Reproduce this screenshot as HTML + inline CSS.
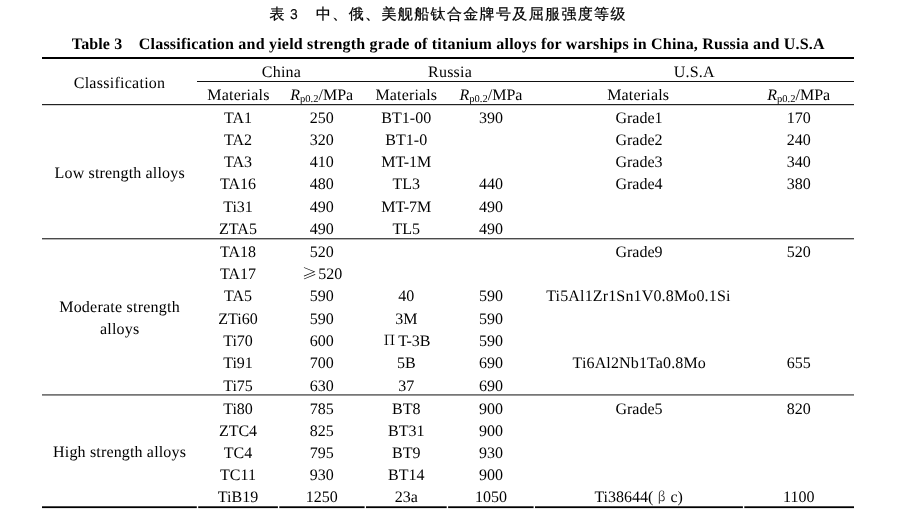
<!DOCTYPE html>
<html><head><meta charset="utf-8"><style>
html,body{margin:0;padding:0;background:#fff;width:900px;height:513px;overflow:hidden}
svg{display:block;will-change:transform;text-rendering:geometricPrecision}
.tx text{font-family:"Liberation Serif", "Times New Roman", serif;font-size:16px;fill:#000;text-anchor:middle}
.tx .sub{font-size:10.5px}
.tx text.st{text-anchor:start}
.tx .ge{font-family:"Noto Serif CJK SC",serif;font-size:15px}
.tx .pi{font-family:"Noto Serif CJK SC",serif;font-size:14px}
.tx .beta{font-family:"Noto Serif CJK SC",serif;font-size:13px;fill:#333}
.cn{font-family:"WenQuanYi Zen Hei", "Noto Sans CJK SC", sans-serif;font-size:15px;fill:#000;stroke:#000;stroke-width:0.25px}
.cn3{font-family:"WenQuanYi Zen Hei", "Noto Sans CJK SC", sans-serif;font-size:15px;fill:#000;stroke:#000;stroke-width:0.3px}
.en{font-family:"Liberation Serif", "Times New Roman", serif;font-size:16px;font-weight:bold;fill:#000}
</style></head><body>
<svg width="900" height="513" viewBox="0 0 900 513">
<text class="cn" x="269.5" y="19.4">表</text>
<text class="cn3" transform="translate(290.1 19.3) scale(0.84 0.95)">3</text>
<text class="cn" x="316" y="19.4" style="letter-spacing:1.36px">中、俄、美舰船钛合金牌号及屈服强度等级</text>
<text class="en" x="71.85" y="48.7" textLength="50.36" lengthAdjust="spacing">Table 3</text>
<text class="en" x="138.80" y="48.7" textLength="685.73" lengthAdjust="spacing">Classification and yield strength grade of titanium alloys for warships in China, Russia and U.S.A</text>
<g class="tx">
<text x="119.40" y="88.00" textLength="91.38" lengthAdjust="spacing">Classification</text>
<text x="281.35" y="76.70" textLength="39.22" lengthAdjust="spacing">China</text>
<text x="449.95" y="76.70" textLength="43.87" lengthAdjust="spacing">Russia</text>
<text x="694.15" y="76.70" textLength="40.62" lengthAdjust="spacing">U.S.A</text>
<text x="238.30" y="99.50" textLength="62.22" lengthAdjust="spacing">Materials</text>
<text x="406.25" y="99.50" textLength="61.62" lengthAdjust="spacing">Materials</text>
<text x="638.10" y="99.50" textLength="61.82" lengthAdjust="spacing">Materials</text>
<text x="321.75" y="99.50"><tspan font-style="italic">R</tspan><tspan class="sub" dy="2.5">p0.2</tspan><tspan dy="-2.5">/MPa</tspan></text>
<text x="491.00" y="99.50"><tspan font-style="italic">R</tspan><tspan class="sub" dy="2.5">p0.2</tspan><tspan dy="-2.5">/MPa</tspan></text>
<text x="798.75" y="99.50"><tspan font-style="italic">R</tspan><tspan class="sub" dy="2.5">p0.2</tspan><tspan dy="-2.5">/MPa</tspan></text>
<text x="238.00" y="123.00">TA1</text>
<text x="321.75" y="123.00">250</text>
<text x="406.25" y="123.00">BT1-00</text>
<text x="491.00" y="123.00">390</text>
<text x="639.00" y="123.00">Grade1</text>
<text x="798.75" y="123.00">170</text>
<text x="238.00" y="145.15">TA2</text>
<text x="321.75" y="145.15">320</text>
<text x="406.25" y="145.15">BT1-0</text>
<text x="639.00" y="145.15">Grade2</text>
<text x="798.75" y="145.15">240</text>
<text x="238.00" y="167.30">TA3</text>
<text x="321.75" y="167.30">410</text>
<text x="406.25" y="167.30">MT-1M</text>
<text x="639.00" y="167.30">Grade3</text>
<text x="798.75" y="167.30">340</text>
<text x="238.00" y="189.45">TA16</text>
<text x="321.75" y="189.45">480</text>
<text x="406.25" y="189.45">TL3</text>
<text x="491.00" y="189.45">440</text>
<text x="639.00" y="189.45">Grade4</text>
<text x="798.75" y="189.45">380</text>
<text x="238.00" y="211.60">Ti31</text>
<text x="321.75" y="211.60">490</text>
<text x="406.25" y="211.60">MT-7M</text>
<text x="491.00" y="211.60">490</text>
<text x="238.00" y="233.75">ZTA5</text>
<text x="321.75" y="233.75">490</text>
<text x="406.25" y="233.75">TL5</text>
<text x="491.00" y="233.75">490</text>
<text x="238.00" y="256.80">TA18</text>
<text x="321.75" y="256.80">520</text>
<text x="639.00" y="256.80">Grade9</text>
<text x="798.75" y="256.80">520</text>
<text x="238.00" y="279.10">TA17</text>
<text x="238.00" y="301.40">TA5</text>
<text x="321.75" y="301.40">590</text>
<text x="406.25" y="301.40">40</text>
<text x="491.00" y="301.40">590</text>
<text x="638.30" y="301.40" textLength="184.18" lengthAdjust="spacing">Ti5Al1Zr1Sn1V0.8Mo0.1Si</text>
<text x="238.00" y="323.70">ZTi60</text>
<text x="321.75" y="323.70">590</text>
<text x="406.25" y="323.70">3M</text>
<text x="491.00" y="323.70">590</text>
<text x="238.00" y="346.00">Ti70</text>
<text x="321.75" y="346.00">600</text>
<text x="491.00" y="346.00">590</text>
<text x="238.00" y="368.30">Ti91</text>
<text x="321.75" y="368.30">700</text>
<text x="406.25" y="368.30">5B</text>
<text x="491.00" y="368.30">690</text>
<text x="639.20" y="368.30" textLength="133.20" lengthAdjust="spacing">Ti6Al2Nb1Ta0.8Mo</text>
<text x="798.75" y="368.30">655</text>
<text x="238.00" y="390.60">Ti75</text>
<text x="321.75" y="390.60">630</text>
<text x="406.25" y="390.60">37</text>
<text x="491.00" y="390.60">690</text>
<text x="238.00" y="413.70">Ti80</text>
<text x="321.75" y="413.70">785</text>
<text x="406.25" y="413.70">BT8</text>
<text x="491.00" y="413.70">900</text>
<text x="639.00" y="413.70">Grade5</text>
<text x="798.75" y="413.70">820</text>
<text x="238.00" y="435.75">ZTC4</text>
<text x="321.75" y="435.75">825</text>
<text x="406.25" y="435.75">BT31</text>
<text x="491.00" y="435.75">900</text>
<text x="238.00" y="457.80">TC4</text>
<text x="321.75" y="457.80">795</text>
<text x="406.25" y="457.80">BT9</text>
<text x="491.00" y="457.80">930</text>
<text x="238.00" y="479.85">TC11</text>
<text x="321.75" y="479.85">930</text>
<text x="406.25" y="479.85">BT14</text>
<text x="491.00" y="479.85">900</text>
<text x="238.00" y="501.90">TiB19</text>
<text x="321.75" y="501.90">1250</text>
<text x="406.25" y="501.90">23a</text>
<text x="491.00" y="501.90">1050</text>
<text x="798.75" y="501.90">1100</text>
<text x="119.60" y="177.80" textLength="130.09" lengthAdjust="spacing">Low strength alloys</text>
<text x="119.40" y="312.00" textLength="120.46" lengthAdjust="spacing">Moderate strength</text>
<text x="119.60" y="334.20" textLength="39.42" lengthAdjust="spacing">alloys</text>
<text x="119.50" y="457.20" textLength="132.77" lengthAdjust="spacing">High strength alloys</text>
<text class="st"><tspan class="ge" x="301.9" y="279.10">≥</tspan><tspan x="318.2" y="279.10">520</tspan></text>
<text class="st"><tspan class="pi" x="383.5" y="344.80">Π</tspan><tspan x="398.2" y="346.00">T-3B</tspan></text>
<text class="st"><tspan x="594.4" y="501.90">Ti38644(</tspan><tspan class="beta" x="657.5" y="500.80">β</tspan><tspan x="670.4" y="501.90">c)</tspan></text>
</g>
<rect x="42" y="57" width="812" height="2" fill="#000"/>
<rect x="197" y="81" width="657" height="1" fill="#111"/>
<rect x="42" y="104" width="812" height="1.2" fill="#222"/>
<rect x="42" y="238" width="812" height="1.4" fill="#4a4a4a"/>
<rect x="42" y="394.2" width="812" height="1.4" fill="#555"/>
<rect x="42" y="506.3" width="154.8" height="1.8" fill="#000"/>
<rect x="198.2" y="506.3" width="79.7" height="1.8" fill="#000"/>
<rect x="279.3" y="506.3" width="85.3" height="1.8" fill="#000"/>
<rect x="366.0" y="506.3" width="80.7" height="1.8" fill="#000"/>
<rect x="448.1" y="506.3" width="85.5" height="1.8" fill="#000"/>
<rect x="535.0" y="506.3" width="207.9" height="1.8" fill="#000"/>
<rect x="744.3" y="506.3" width="109.7" height="1.8" fill="#000"/>
</svg>
</body></html>
